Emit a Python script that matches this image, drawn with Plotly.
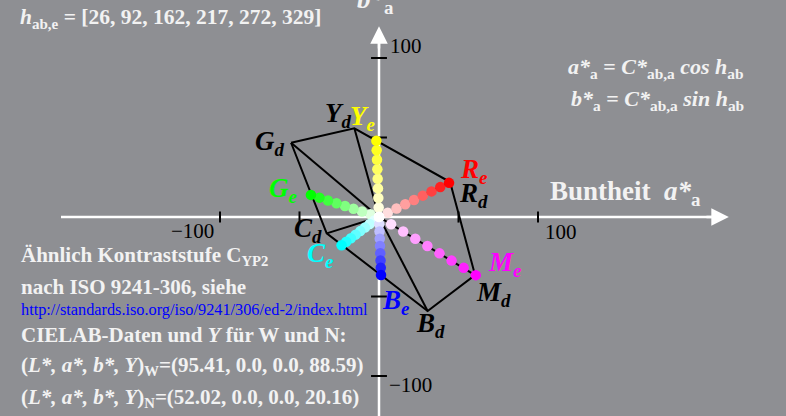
import numpy as np
import plotly.graph_objects as go

# ---- data ----
names = ["R", "Y", "G", "C", "B", "M"]
hue_e = [26, 92, 162, 217, 272, 329]
chroma_e = [49, 48, 45, 29.5, 36.5, 71]
a_d = [44.7, -15.5, -55.3, -32.9, 30.6, 60.4]
b_d = [22.0, 55.8, 46.7, -10.3, -59.1, -36.5]
full_rgb = [(255, 0, 0), (255, 255, 0), (0, 255, 0), (0, 255, 255), (0, 0, 255), (255, 0, 255)]
label_e_colors = ["#ff0000", "#ffff00", "#00ff00", "#00ffff", "#0000ff", "#ff00ff"]
n_steps = 9
ticks = [-100, -50, 50, 100]
tick_labels = {100: "100", -100: "\u2212100"}

BG = "#8e8f93"
FONT = "Liberation Serif"
TXT = "#f2f2f2"

fig = go.Figure()

# ---- black cube outline ----
hex_order = [2, 1, 0, 5, 4, 3, 2]  # G Y R M B C G
fig.add_trace(go.Scatter(x=[a_d[i] for i in hex_order], y=[b_d[i] for i in hex_order],
                         mode="lines", line=dict(color="black", width=2),
                         hoverinfo="skip", showlegend=False))
sx, sy = [], []
for i in range(6):
    sx += [0, a_d[i], None]
    sy += [0, b_d[i], None]
fig.add_trace(go.Scatter(x=sx, y=sy, mode="lines", line=dict(color="black", width=2),
                         hoverinfo="skip", showlegend=False))

# ---- coloured dot series ----
a_e, b_e = [], []
for h, c, rgb in zip(hue_e, chroma_e, full_rgb):
    ae = c * np.cos(np.radians(h))
    be = c * np.sin(np.radians(h))
    a_e.append(ae)
    b_e.append(be)
    t = np.linspace(0, 1, n_steps)
    cols = [f"rgb({int(round(255*(1-k)+rgb[0]*k))},{int(round(255*(1-k)+rgb[1]*k))},{int(round(255*(1-k)+rgb[2]*k))})" for k in t]
    fig.add_trace(go.Scatter(x=list(ae * t), y=list(be * t), mode="markers",
                             marker=dict(size=10.5, color=cols, line=dict(width=0)),
                             hoverinfo="skip", showlegend=False))

# ---- axes lines / arrows / ticks ----
shapes = []
shapes.append(dict(type="line", x0=-200, x1=216, y0=0, y1=0, xref="x", yref="y",
                   line=dict(color="white", width=2.5), layer="below"))
shapes.append(dict(type="line", x0=0, x1=0, y0=-140, y1=116, xref="x", yref="y",
                   line=dict(color="white", width=2.5), layer="below"))
for tv in ticks:
    shapes.append(dict(type="line", x0=tv, x1=tv, y0=-3.5, y1=3.5, xref="x", yref="y",
                       line=dict(color="black", width=2), layer="below"))
    shapes.append(dict(type="line", x0=-5, x1=5, y0=tv, y1=tv, xref="x", yref="y",
                       line=dict(color="black", width=2), layer="below"))

ann = []
ann.append(dict(x=220, y=0, ax=205, ay=0, axref="x", ayref="y", xref="x", yref="y",
                text="", showarrow=True, arrowhead=2, arrowsize=1.4, arrowwidth=2.5,
                arrowcolor="white", standoff=0))
ann.append(dict(x=0, y=120, ax=0, ay=105, axref="x", ayref="y", xref="x", yref="y",
                text="", showarrow=True, arrowhead=2, arrowsize=1.4, arrowwidth=2.5,
                arrowcolor="white", standoff=0))

tf = dict(family=FONT, size=21, color="black")
ann.append(dict(x=100, y=0, xref="x", yref="y", text=tick_labels[100], showarrow=False,
                xanchor="left", xshift=5, yshift=-15, font=tf))
ann.append(dict(x=-100, y=0, xref="x", yref="y", text=tick_labels[-100], showarrow=False,
                xanchor="right", xshift=-4, yshift=-14, font=tf))
ann.append(dict(x=0, y=100, xref="x", yref="y", text=tick_labels[100], showarrow=False,
                xanchor="left", xshift=9, yshift=12, font=tf))
ann.append(dict(x=0, y=-100, xref="x", yref="y", text=tick_labels[-100], showarrow=False,
                xanchor="left", xshift=8, yshift=-9, font=tf))

# ---- point labels ----
lf = dict(family=FONT, size=27)
e_shift = [(24, 12), (-14, 23), (-28, 5), (-22, -10), (14, -27), (29, 11)]
d_shift = [(23, -13), (-16, 13), (-21, 0), (-19, 3), (3, -14), (18, -19)]
for i, nm in enumerate(names):
    ann.append(dict(x=a_e[i], y=b_e[i], xref="x", yref="y", showarrow=False,
                    text=f"<b><i>{nm}</i></b><sub><b><i>e</i></b></sub>",
                    xshift=e_shift[i][0], yshift=e_shift[i][1],
                    font=dict(lf, color=label_e_colors[i])))
    ann.append(dict(x=a_d[i], y=b_d[i], xref="x", yref="y", showarrow=False,
                    text=f"<b><i>{nm}</i></b><sub><b><i>d</i></b></sub>",
                    xshift=d_shift[i][0], yshift=d_shift[i][1],
                    font=dict(lf, color="black")))

# ---- axis titles ----
ann.append(dict(x=548, y=416 - 193, xref="paper", yref="paper", showarrow=False,
                text="<b>Buntheit  <i>a*</i><sub>a</sub></b>", xanchor="left", yanchor="middle",
                font=dict(family=FONT, size=27, color=TXT)))
ann.append(dict(x=396, y=416 - 1, xref="paper", yref="paper", showarrow=False,
                text="<b><i>b*</i><sub>a</sub></b>", xanchor="right", yanchor="middle",
                font=dict(family=FONT, size=27, color=TXT)))

# ---- formulas ----
ff = dict(family=FONT, size=22, color=TXT)
ann.append(dict(x=746, y=416 - 68, xref="paper", yref="paper", showarrow=False, xanchor="right",
                yanchor="middle",
                text="<b><i>a*</i><sub>a</sub> = <i>C*</i><sub>ab,a</sub> <i>cos h</i><sub>ab</sub></b>",
                font=ff))
ann.append(dict(x=746, y=416 - 100, xref="paper", yref="paper", showarrow=False, xanchor="right",
                yanchor="middle",
                text="<b><i>b*</i><sub>a</sub> = <i>C*</i><sub>ab,a</sub> <i>sin h</i><sub>ab</sub></b>",
                font=ff))

# ---- top-left hue list ----
hue_text = "<b><i>h</i><sub>ab,e</sub> = [" + ", ".join(str(h) for h in hue_e) + "]</b>"
ann.append(dict(x=18, y=416 - 19, xref="paper", yref="paper", showarrow=False, xanchor="left",
                yanchor="middle", text=hue_text, font=dict(family=FONT, size=21.5, color=TXT)))

# ---- left text block ----
bf = dict(family=FONT, size=21, color=TXT)
left_lines = [
    (256, "<b>Ähnlich Kontraststufe C<sub>YP2</sub></b>", bf),
    (287, "<b>nach ISO 9241-306, siehe</b>", bf),
    (309, "http://standards.iso.org/iso/9241/306/ed-2/index.html", dict(family=FONT, size=16.3, color="#0000ff")),
    (335, "<b>CIELAB-Daten und <i>Y</i> für W und N:</b>", bf),
    (366, "<b>(<i>L*, a*, b*, Y</i>)<sub>W</sub>=(95.41, 0.0, 0.0, 88.59)</b>", bf),
    (398, "<b>(<i>L*, a*, b*, Y</i>)<sub>N</sub>=(52.02, 0.0, 0.0, 20.16)</b>", bf),
]
for py, txt, f in left_lines:
    ann.append(dict(x=19, y=416 - py, xref="paper", yref="paper", showarrow=False, xanchor="left",
                    yanchor="middle", text=txt, font=f))

# convert paper-pixel annotations to fractions
for a in ann:
    if a.get("xref") == "paper":
        a["x"] = a["x"] / 786
        a["y"] = a["y"] / 416

scale = 1.59
x0, y0 = 379, 217
fig.update_layout(
    width=786, height=416, margin=dict(l=0, r=0, t=0, b=0),
    paper_bgcolor=BG, plot_bgcolor=BG,
    xaxis=dict(range=[(0 - x0) / scale, (786 - x0) / scale], visible=False, fixedrange=True),
    yaxis=dict(range=[(y0 - 416) / scale, y0 / scale], visible=False, fixedrange=True),
    shapes=shapes, annotations=ann, showlegend=False,
)
fig.write_html("out.html")
